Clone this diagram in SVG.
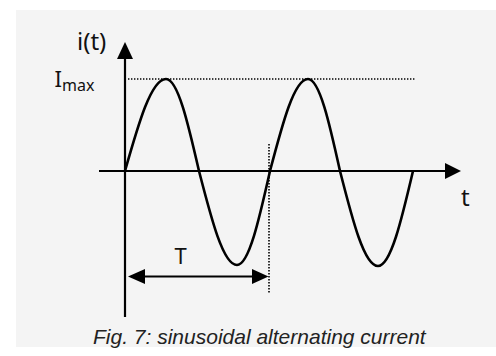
<svg xmlns="http://www.w3.org/2000/svg" width="496" height="356" viewBox="0 0 496 356">
  <style>
    .axis { stroke: #000; stroke-width: 2.2; fill: none; }
    .curve { stroke: #000; stroke-width: 2.6; fill: none; stroke-linejoin: round; }
    .dot { stroke: #000; stroke-width: 1.6; fill: none; stroke-dasharray: 1.4 1.6; }
    .head { fill: #000; stroke: none; }
    .lbl { font-family: "Noto Sans", "Open Sans", sans-serif; fill: #111; }
    .cap { font-family: "Liberation Sans", Arial, sans-serif; font-style: italic; font-size: 21px; fill: #222; }
  </style>
  <rect x="16" y="10" width="480" height="337" fill="#f4f4f4"/>

  <g id="connectors">
    <g id="y-axis">
      <line class="axis" x1="125" y1="317" x2="125" y2="57"/>
      <polygon class="head" points="125,42 117,59 133,59"/>
    </g>
    <g id="x-axis">
      <line class="axis" x1="99" y1="171" x2="447" y2="171"/>
      <polygon class="head" points="461,171 445,163 445,179"/>
    </g>
    <g id="imax-line">
      <line class="dot" x1="128" y1="79" x2="416" y2="79"/>
    </g>
    <g id="period-line">
      <line class="dot" x1="269" y1="144" x2="269" y2="293"/>
    </g>
    <g id="period-arrow">
      <line class="axis" x1="144" y1="276.5" x2="254" y2="276.5"/>
      <polygon class="head" points="128,276.5 145,269 145,284"/>
      <polygon class="head" points="268.5,276.5 252,269 252,284"/>
    </g>
  </g>

  <g id="sine">
    <path class="curve" d="M125,171 C138.4,123.9 151.2,79 166,79 C177.9,79 188.2,123.9 199,171 C211.4,219.2 223.2,265 237,265 C248.9,265 259.2,219.2 270,171 C282.4,123.9 294.2,79 308,79 C319.6,79 329.6,123.9 340,171 C352.4,219.7 364.2,266 378,266 C390.7,266 401.6,219.7 413,171"/>
  </g>

  <g id="label-it">
    <text class="lbl" x="77" y="50" font-size="24">i(t)</text>
  </g>
  <g id="label-imax">
    <text class="lbl" x="54.5" y="87" font-size="22">I<tspan font-size="16" dy="3.7">max</tspan></text>
  </g>
  <g id="label-t">
    <text class="lbl" x="461" y="206" font-size="24">t</text>
  </g>
  <g id="label-T">
    <text class="lbl" x="180.7" y="264" font-size="22" text-anchor="middle">T</text>
  </g>
  <g id="caption">
    <text class="cap" x="93" y="344">Fig. 7: sinusoidal alternating current</text>
  </g>
</svg>
